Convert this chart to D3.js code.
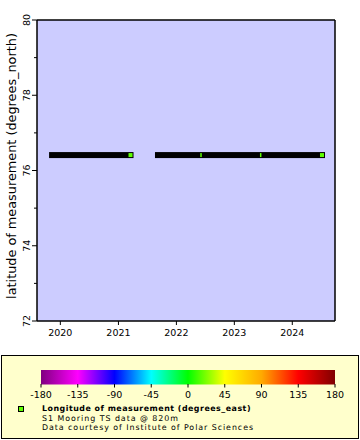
<!DOCTYPE html>
<html><head><meta charset="utf-8">
<script src="https://cdn.jsdelivr.net/npm/d3@7"></script>
<style>body{margin:0;background:#fff}svg{display:block}text{font-family:"DejaVu Sans",sans-serif}</style>
</head><body><svg id="c" width="360" height="440"></svg>
<script>
// ---- data ----
const xDomain = ["2019-08-07", "2024-09-26"];
const yDomain = [72, 80];
const xTickYears = [2020, 2021, 2022, 2023, 2024];
const yTicks = [72, 74, 76, 78, 80];
const yMinorTicks = [73, 75, 77, 79];
const segmentStarts = ["2019-11-10", "2021-09-07"];
const segmentEnds = ["2021-03-18", "2024-07-06"];
const segmentLat = [76.41, 76.41];
const markerTimes = ["2021-03-18", "2022-06-05", "2023-06-16", "2024-07-06"];
const markerLat = [76.41, 76.41, 76.41, 76.41];
const markerLon = [16.5, 16.5, 16.5, 16.5];
const markerIsEnd = [true, false, false, true];
const colorStops = [-180, -135, -90, -45, 0, 45, 90, 135, 180];
const colorStopColors = ["#800080", "#ff00ff", "#0000ff", "#00ffff", "#00ff00", "#ffff00", "#ffaa00", "#ff0000", "#800000"];
const legendTitle = "Longitude of measurement (degrees_east)";
const legendLines = ["S1 Mooring TS data @ 820m", "Data courtesy of Institute of Polar Sciences"];
const yLabel = "latitude of measurement (degrees_north)";

const parse = d3.utcParse("%Y-%m-%d");
const svg = d3.select("#c");
const L = 37, T = 20, R = 335, B = 321;
const x = d3.scaleUtc().domain(xDomain.map(parse)).range([L, R]);
const y = d3.scaleLinear().domain(yDomain).range([B, T]);
const color = d3.scaleLinear().domain(colorStops).range(colorStopColors);

// scale a text's font size so it spans a target width
function fit(sel, base, target) {
  sel.attr("font-size", base);
  const w = sel.node().getComputedTextLength();
  sel.attr("font-size", base * target / w);
  return sel;
}
// widen / narrow a text with letter spacing so it spans a target width
function spread(sel, size, target) {
  sel.attr("font-size", size);
  const w = sel.node().getComputedTextLength();
  const n = sel.text().length;
  sel.attr("letter-spacing", (target - w) / n);
  return sel;
}

svg.append("rect").attr("x", L).attr("y", T).attr("width", R - L).attr("height", B - T).attr("fill", "#ccccff");

// segments
segmentStarts.forEach((s, i) => {
  const x0 = x(parse(s)), x1 = x(parse(segmentEnds[i])), yy = y(segmentLat[i]);
  svg.append("rect").attr("x", x0 - 3).attr("y", yy - 3).attr("width", x1 - x0 + 6).attr("height", 6).attr("fill", "#000");
});
// markers
markerTimes.forEach((t, i) => {
  const cx = x(parse(t)), cy = y(markerLat[i]);
  const w = markerIsEnd[i] ? 4 : 1.5;
  svg.append("rect").attr("x", cx - w / 2).attr("y", cy - 2).attr("width", w).attr("height", 4).attr("fill", color(markerLon[i]));
});

// axes frame
const g = svg.append("g");
g.append("line").attr("x1", L).attr("x2", L).attr("y1", T).attr("y2", B).attr("stroke", "#000").attr("stroke-width", 1.5);
g.append("line").attr("x1", L).attr("x2", R).attr("y1", B).attr("y2", B).attr("stroke", "#000").attr("stroke-width", 1.5);
g.append("line").attr("x1", R).attr("x2", R).attr("y1", T).attr("y2", B).attr("stroke", "#000").attr("stroke-width", 1.5);
g.append("line").attr("x1", L).attr("x2", R).attr("y1", T).attr("y2", T).attr("stroke", "#000").attr("stroke-width", 1.5);

yTicks.forEach(v => {
  g.append("line").attr("x1", L - 5).attr("x2", L).attr("y1", y(v)).attr("y2", y(v)).attr("stroke", "#000");
  g.append("text").attr("transform", `translate(30,${y(v)}) rotate(-90)`).attr("text-anchor", "middle")
    .attr("font-size", 9.5).text(v);
});
yMinorTicks.forEach(v => {
  g.append("line").attr("x1", L - 3).attr("x2", L).attr("y1", y(v)).attr("y2", y(v)).attr("stroke", "#000");
});
xTickYears.forEach(v => {
  const xx = x(new Date(Date.UTC(v, 0, 1)));
  g.append("line").attr("x1", xx).attr("x2", xx).attr("y1", B).attr("y2", B + 4).attr("stroke", "#000");
  g.append("text").attr("x", xx).attr("y", 335.5).attr("text-anchor", "middle").attr("font-size", 9.5).text(v);
});
fit(svg.append("text").attr("transform", "translate(15.5,166) rotate(-90)").attr("text-anchor", "middle").text(yLabel), 12, 266);

// legend
svg.append("rect").attr("x", 1.5).attr("y", 355.5).attr("width", 357).attr("height", 83).attr("fill", "#ffffcc").attr("stroke", "#000");
const cx0 = 41, cx1 = 335;
const cb = d3.scaleLinear().domain([-180, 180]).range([cx0, cx1]);
const defs = svg.append("defs");
const grad = defs.append("linearGradient").attr("id", "cbg");
colorStops.forEach((s, i) => grad.append("stop").attr("offset", (s + 180) / 360).attr("stop-color", colorStopColors[i]));
svg.append("rect").attr("x", cx0).attr("y", 370).attr("width", cx1 - cx0).attr("height", 14.5).attr("fill", "url(#cbg)");
colorStops.forEach(s => {
  svg.append("line").attr("x1", cb(s)).attr("x2", cb(s)).attr("y1", 384).attr("y2", 387.5).attr("stroke", "#000");
  svg.append("text").attr("x", cb(s)).attr("y", 398.3).attr("text-anchor", "middle").attr("font-size", 9.5).text(s);
});
svg.append("rect").attr("x", 18.5).attr("y", 406.5).attr("width", 5).attr("height", 5).attr("fill", color(markerLon[0])).attr("stroke", "#000");
spread(svg.append("text").attr("x", 42).attr("y", 411.3).attr("font-weight", "bold").text(legendTitle), 7.9, 209);
spread(svg.append("text").attr("x", 42).attr("y", 420.6).text(legendLines[0]), 7.9, 137);
spread(svg.append("text").attr("x", 42).attr("y", 429.8).text(legendLines[1]), 7.9, 212);
</script></body></html>
